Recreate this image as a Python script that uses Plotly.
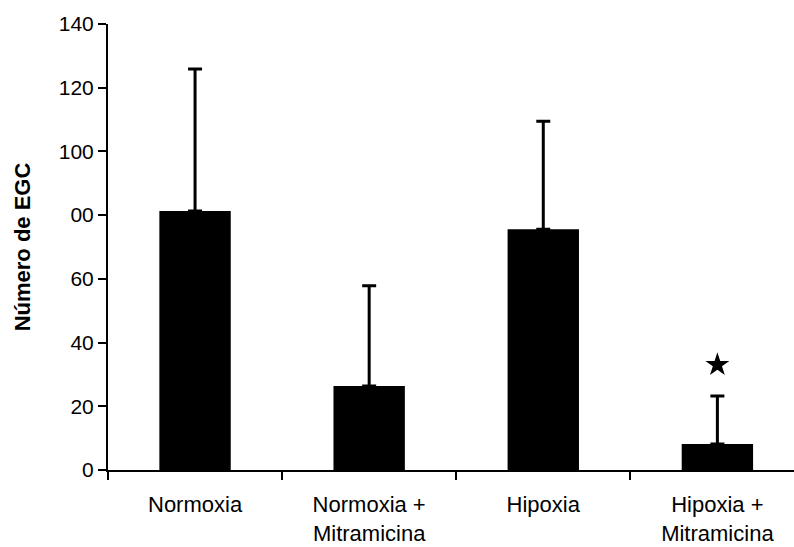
import plotly.graph_objects as go

categories = ["Normoxia", "Normoxia +<br>Mitramicina", "Hipoxia", "Hipoxia +<br>Mitramicina"]
means = [81.3, 26.4, 75.6, 8.2]
err_plus = [44.6, 31.4, 33.9, 15.0]
star_cat = ["Hipoxia +<br>Mitramicina"]
star_y = [33.0]
y_ticks = [0, 20, 40, 60, 80, 100, 120, 140]
y_ticktext = ["0", "20", "40", "60", "00", "100", "120", "140"]

fig = go.Figure()
fig.add_trace(go.Bar(
    x=categories, y=means, width=0.41,
    marker=dict(color="black", line=dict(width=0)),
    error_y=dict(type="data", symmetric=False, array=err_plus, arrayminus=[0]*4,
                 color="black", thickness=3, width=7),
    showlegend=False,
))
fig.add_trace(go.Scatter(
    x=star_cat, y=star_y, mode="markers",
    marker=dict(symbol="star", size=18, color="black"),
    showlegend=False,
))

font_family = "Liberation Sans, Arial, sans-serif"
fig.update_layout(
    width=794, height=547,
    margin=dict(l=108, r=0, t=24, b=77),
    paper_bgcolor="white", plot_bgcolor="white",
    font=dict(family=font_family, color="black", size=21),
    bargap=0.59,
)
fig.update_xaxes(
    type="category", range=[-0.5, 3.44],
    showline=True, linecolor="black", linewidth=2,
    ticks="outside", tickson="boundaries", ticklen=8, tickwidth=2, tickcolor="black",
    tickfont=dict(size=22, family=font_family),
    ticklabelstandoff=14,
    showgrid=False, zeroline=False,
)
fig.update_yaxes(
    range=[0, 140], tickvals=y_ticks, ticktext=y_ticktext,
    showline=True, linecolor="black", linewidth=2,
    ticks="outside", ticklen=8, tickwidth=2, tickcolor="black",
    tickfont=dict(size=21, family=font_family),
    showgrid=False, zeroline=False,
    title=dict(text="<b>Número de EGC</b>", font=dict(size=22, family=font_family), standoff=22),
)
fig.write_html("out.html")
